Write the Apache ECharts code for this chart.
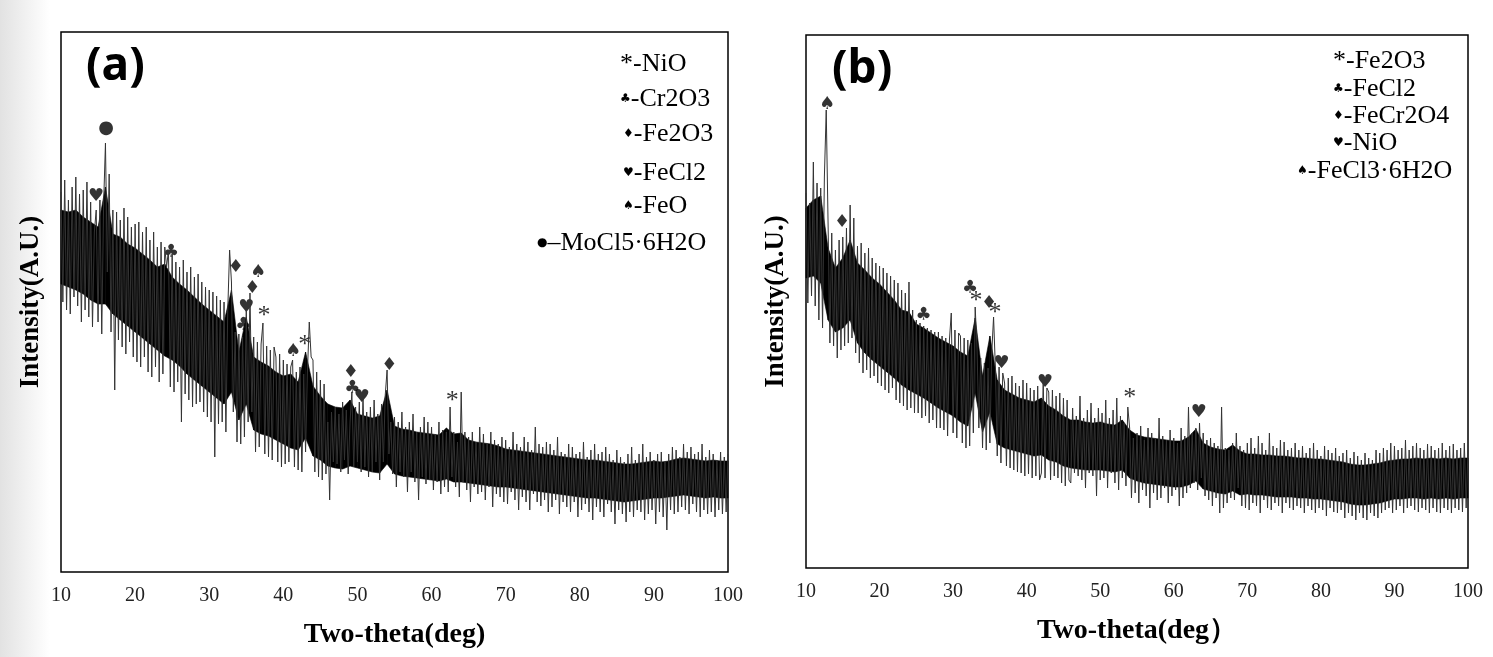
<!DOCTYPE html>
<html>
<head>
<meta charset="utf-8">
<script src="https://cdn.jsdelivr.net/npm/echarts/dist/echarts.min.js"></script>
<style>
  html, body { margin: 0; padding: 0; background: #fff; }
  #chart { width: 1493px; height: 657px; }
</style>
</head>
<body>
<div id="chart"></div>
<script>
// scan grid: 10..100 deg, a reading every 0.25 deg, the dense core every 1 deg
const thetaStart = 10
const thetaStep = 0.25
const coreStep = 1
const thetaTicks = [10, 20, 30, 40, 50, 60, 70, 80, 90, 100]

// (a) intensity (arbitrary units)
const intensityA = [
  380, 270, 392, 262,  372, 258, 385, 275,  395, 266, 378, 250,  382, 262, 390, 255,
  370, 245, 340, 362,  250, 372, 238, 368,  429, 300, 398, 240,  362, 182, 360, 232,
  352, 225, 364, 218,  355, 230, 345, 215,  348, 210, 350, 205,  340, 215, 345, 200,
  332, 195, 340, 205,  325, 190, 330, 198,  325, 305, 322, 185,  318, 180, 310, 190,
  305, 150, 312, 178,  300, 172, 305, 165,  295, 168, 298, 170,  290, 160, 285, 155,
  282, 150, 280, 115,  276, 148, 272, 150,  270, 140, 262, 322,  290, 160, 240, 130,
  238, 128, 235, 135,  262, 150, 279, 160,  235, 120, 230, 125,  228, 249, 118, 226,
  115, 222, 112, 225,  215, 110, 218, 105,  212, 108, 208, 110,  205, 212, 105, 200,
  102, 205, 100, 198,  120, 200, 250, 215,  212, 100, 200, 95,   192, 92, 188, 98,
  150, 72, 160, 110,   165, 108, 158, 100,  170, 112, 162, 98,   150, 180, 105, 165,
  110, 170, 100, 175,  105, 160, 95, 165,   100, 172, 110, 158,  92, 168, 110, 177,
  202, 118, 150, 98,   155, 85, 150, 100,   160, 95, 145, 80,    150, 100, 158, 90,
  140, 72, 145, 95,    155, 88, 150, 92,    145, 82, 138, 90,    150, 78, 142, 85,
  140, 80, 165, 95,    140, 85, 130, 75,    180, 90, 140, 82,    135, 70, 140, 85,
  130, 78, 145, 80,    138, 72, 128, 85,    140, 65, 132, 78,    128, 75, 135, 70,
  132, 68, 125, 80,    140, 72, 128, 62,    125, 75, 135, 70,    130, 62, 122, 78,
  145, 70, 128, 66,    125, 72, 130, 60,    128, 65, 122, 72,    135, 58, 120, 70,
  118, 65, 128, 60,    125, 70, 118, 55,    120, 62, 130, 68,    115, 60, 122, 52,
  128, 65, 118, 60,    120, 55, 125, 68,    118, 60, 112, 48,    122, 62, 115, 58,
  110, 50, 118, 60,    125, 55, 112, 62,    118, 60, 128, 52,    115, 58, 120, 62,
  112, 48, 118, 60,    120, 55, 110, 42,    118, 62, 125, 58,    122, 60, 115, 65,
  128, 62, 120, 58,    125, 68, 118, 60,    120, 55, 128, 62,    115, 58, 122, 60,
  118, 55, 112, 62,    120, 58, 115, 60,
  118
]
// (a) dense black core of the trace, upper and lower edge, one per degree
const coreTopA = [
  362, 360, 362, 355, 350, 345, 385, 338, 335, 328,
  324, 318, 312, 305, 308, 295, 288, 282, 275, 268,
  262, 256, 250, 282, 220, 255, 215, 210, 206, 200,
  196, 198, 190, 220, 186, 176, 168, 165, 164, 172,
  158, 156, 154, 156, 182, 146, 143, 142, 140, 139,
  138, 137, 144, 138, 139, 132, 130, 129, 128, 126,
  123, 122, 121, 120, 119, 118, 117, 116, 115, 114,
  113, 112, 112, 111, 110, 109, 108, 108, 109, 110,
  111, 110, 111, 113, 114, 113, 112, 111, 112, 111,
  111
]
const coreBotA = [
  288, 285, 282, 278, 272, 268, 268, 258, 252, 246,
  240, 234, 228, 222, 216, 212, 206, 198, 192, 186,
  180, 174, 168, 180, 152, 168, 142, 138, 136, 132,
  128, 124, 122, 134, 116, 112, 106, 104, 103, 106,
  104, 102, 100, 99, 108, 98, 96, 95, 94, 93,
  92, 91, 93, 90, 90, 89, 88, 87, 86, 85,
  85, 84, 83, 82, 81, 80, 79, 78, 77, 76,
  75, 74, 74, 73, 72, 71, 70, 71, 72, 73,
  74, 74, 75, 76, 77, 76, 75, 74, 75, 74,
  74
]

// (b) intensity
const intensityB = [
  375, 265, 365, 272,  406, 262, 385, 248,  380, 240, 391, 458,  345, 225, 335, 222,
  318, 210, 328, 218,  331, 222, 340, 225,  363, 230, 350, 215,  322, 205, 325, 195,
  315, 198, 320, 190,  310, 192, 305, 185,  302, 182, 300, 178,  295, 175, 292, 180,
  288, 168, 285, 165,  278, 162, 275, 158,  286, 160, 258, 155,  248, 155, 245, 150,
  242, 152, 240, 145,  238, 148, 236, 140,  236, 140, 232, 138,  230, 132, 228, 255,
  135, 238, 130, 235,  232, 125, 230, 120,  228, 122, 225, 135,  261, 220, 140, 210,
  120, 205, 118, 200,  125, 215, 251, 200,  112, 201, 105, 195,  185, 102, 190, 100,
  192, 98, 185, 96,    182, 95, 188, 92,    185, 94, 180, 90,    178, 92, 182, 88,
  95, 188, 90, 180,    176, 88, 178, 92,    172, 90, 175, 85,    170, 82, 168, 88,
  85, 160, 95, 152,    92, 172, 88, 150,    80, 158, 95, 165,    92, 150, 72, 160,
  88, 155, 90, 168,    80, 150, 95, 158,    85, 170, 78, 152,    90, 145, 82, 161,
  140, 70, 130, 75,    135, 65, 142, 78,    128, 72, 140, 60,    135, 75, 130, 68,
  150, 70, 132, 80,    128, 65, 138, 72,    130, 78, 125, 62,    140, 70, 132, 75,
  161, 80, 135, 85,    140, 78, 145, 90,    135, 72, 128, 68,    130, 62, 125, 70,
  122, 55, 161, 60,    120, 65, 118, 70,    125, 68, 135, 80,    122, 62, 118, 60,
  125, 58, 130, 65,    120, 62, 132, 55,    125, 68, 118, 60,    135, 58, 122, 65,
  120, 62, 128, 55,    126, 65, 118, 60,    120, 58, 125, 62,    118, 60, 122, 55,
  115, 62, 120, 58,    125, 55, 118, 60,    112, 58, 122, 52,    118, 60, 115, 56,
  120, 55, 112, 58,    115, 50, 118, 55,    110, 52, 116, 48,    112, 55, 108, 50,
  115, 48, 110, 55,    108, 52, 118, 50,    115, 55, 120, 58,    118, 60, 125, 55,
  122, 58, 118, 62,    120, 55, 128, 60,    118, 62, 122, 58,    125, 56, 120, 60,
  118, 58, 124, 55,    122, 60, 118, 56,    120, 55, 125, 60,    118, 58, 122, 55,
  124, 60, 118, 58,    120, 56, 125, 60,
  118
]
const coreTopB = [
  360, 368, 372, 320, 300, 310, 328, 305, 298, 290,
  284, 276, 268, 258, 256, 244, 240, 235, 230, 226,
  222, 216, 212, 250, 192, 232, 188, 178, 174, 170,
  168, 166, 170, 162, 158, 152, 148, 148, 146, 145,
  146, 144, 143, 148, 138, 133, 131, 130, 129, 128,
  127, 127, 131, 139, 125, 121, 119, 118, 123, 117,
  114, 114, 113, 113, 112, 112, 111, 110, 110, 109,
  109, 108, 107, 106, 104, 103, 103, 104, 105, 107,
  108, 109, 109, 110, 109, 110, 109, 110, 109, 110,
  110
]
const coreBotB = [
  290, 292, 285, 248, 236, 240, 248, 225, 215, 208,
  202, 196, 190, 183, 178, 174, 170, 165, 160, 156,
  152, 146, 142, 175, 136, 156, 124, 120, 118, 116,
  114, 112, 113, 108, 106, 102, 100, 99, 98, 98,
  98, 97, 96, 98, 90, 87, 85, 84, 83, 82,
  81, 81, 83, 87, 79, 77, 75, 74, 77, 73,
  74, 73, 73, 72, 71, 71, 71, 70, 70, 69,
  69, 68, 67, 66, 64, 63, 63, 64, 65, 67,
  69, 69, 70, 70, 69, 70, 69, 70, 69, 70,
  70
]

// phase marks above the peaks: [two-theta, intensity, mark]
const peaksA = [
  [16.07, 444, '●'], [14.72, 376, '♥'], [24.85, 320, '♣'], [33.6, 305, '♦'],
  [36.6, 300, '♠'], [35.8, 284, '♦'], [35.0, 265, '♥'], [34.6, 247, '♣'],
  [37.4, 256, '*'], [41.3, 221, '♠'], [42.9, 227, '*'], [49.1, 200, '♦'],
  [49.3, 184, '♣'], [50.6, 175, '♥'], [54.3, 207, '♦'], [62.8, 171, '*']
]
const peaksB = [
  [12.85, 464, '♠'], [14.9, 346, '♦'], [26.0, 253, '♣'], [32.3, 280, '♣'],
  [33.1, 267, '*'], [34.9, 265, '♦'], [35.7, 255, '*'], [36.6, 205, '♥'],
  [42.5, 186, '♥'], [54.0, 170, '*'], [63.4, 156, '♥']
]

const phasesA = [['*', '-NiO'], ['♣', '-Cr2O3'], ['♦', '-Fe2O3'], ['♥', '-FeCl2'], ['♠', '-FeO'], ['●', '–MoCl5·6H2O']]
const phasesB = [['*', '-Fe2O3'], ['♣', '-FeCl2'], ['♦', '-FeCr2O4'], ['♥', '-NiO'], ['♠', '-FeCl3·6H2O']]

const chart = echarts.init(document.getElementById('chart'))

function toPairs(vals, step) {
  return vals.map((v, i) => [thetaStart + i * step, v])
}
// one quad per degree: [x0, top0, bot0, x1, top1, bot1]
function bandSegments(top, bot) {
  let segs = []
  for (let i = 0; i < top.length - 1; i++) {
    segs.push([
      thetaStart + i * coreStep, top[i], bot[i],
      thetaStart + (i + 1) * coreStep, top[i + 1], bot[i + 1]
    ])
  }
  return segs
}

function markData(list) {
  return list.map(p => ({
    value: [p[0], p[1]],
    label: p[2] === '*'
      ? { formatter: '*', fontFamily: 'Liberation Serif', fontSize: 26, lineHeight: 26, padding: [10, 0, 0, 0] }
      : { formatter: p[2] }
  }))
}

const serif = 'Liberation Serif'

function xAx(idx, name) {
  return {
    gridIndex: idx, type: 'value', min: 10, max: 100, interval: 10,
    name: name, nameLocation: 'middle', nameGap: 49,
    nameTextStyle: { fontFamily: serif, fontWeight: 'bold', fontSize: 28, color: '#000' },
    axisLine: { show: false }, axisTick: { show: false }, splitLine: { show: false },
    axisLabel: {
      margin: 14, fontFamily: serif, fontSize: 20, color: '#222',
      formatter: v => thetaTicks.indexOf(v) >= 0 ? String(v) : ''
    }
  }
}
function yAx(idx, max) {
  return {
    gridIndex: idx, type: 'value', min: 0, max: max,
    name: 'Intensity(A.U.)', nameLocation: 'middle', nameGap: 16,
    nameTextStyle: { fontFamily: serif, fontWeight: 'bold', fontSize: 27, color: '#000' },
    axisLine: { show: false }, axisTick: { show: false },
    axisLabel: { show: false }, splitLine: { show: false }
  }
}

function legendRows(list, xs, ys) {
  return list.map((row, i) => ({
    type: 'text', left: xs[i], top: ys[i] - 12,
    style: {
      text: '{s|' + row[0] + '}{t|' + row[1] + '}',
      rich: {
        s: row[0] === '*'
          ? { fontFamily: serif, fontSize: 26, fill: '#000' }
          : { fontFamily: 'DejaVu Sans', fontSize: 12, fill: '#000' },
        t: { fontFamily: serif, fontSize: 26, fill: '#000' }
      }
    }
  }))
}

// the dense core of the trace, drawn as a filled band through the axes
function coreSeries(idx, top, bot) {
  return {
    type: 'custom', xAxisIndex: idx, yAxisIndex: idx, silent: true,
    data: bandSegments(top, bot),
    encode: { x: [0, 3], y: [1, 2, 4, 5] },
    renderItem: function (params, api) {
      const a = api.coord([api.value(0), api.value(1)])
      const b = api.coord([api.value(3), api.value(4)])
      const c = api.coord([api.value(3), api.value(5)])
      const d = api.coord([api.value(0), api.value(2)])
      return {
        type: 'polygon',
        shape: { points: [a, b, c, d] },
        style: { fill: '#000', stroke: '#000', lineWidth: 0.6 }
      }
    }
  }
}

const markLabel = {
  show: true, position: 'inside', color: '#000',
  fontFamily: 'DejaVu Sans', fontSize: 18
}

let option = {
  animation: false,
  backgroundColor: '#fff',
  grid: [
    { left: 61, top: 32, width: 667, height: 540, show: true, borderColor: '#000', borderWidth: 1.5 },
    { left: 806, top: 35, width: 662, height: 533, show: true, borderColor: '#000', borderWidth: 1.5 }
  ],
  xAxis: [xAx(0, 'Two-theta(deg)'), xAx(1, 'Two-theta(deg）')],
  yAxis: [yAx(0, 540), yAx(1, 533)],
  series: [
    coreSeries(0, coreTopA, coreBotA),
    coreSeries(1, coreTopB, coreBotB),
    {
      name: 'a', type: 'line', xAxisIndex: 0, yAxisIndex: 0, data: toPairs(intensityA, thetaStep),
      symbol: 'none', lineStyle: { color: '#333', width: 1 }
    },
    {
      name: 'b', type: 'line', xAxisIndex: 1, yAxisIndex: 1, data: toPairs(intensityB, thetaStep),
      symbol: 'none', lineStyle: { color: '#333', width: 1 }
    },
    {
      name: 'marks a', type: 'scatter', xAxisIndex: 0, yAxisIndex: 0, data: markData(peaksA),
      symbolSize: 1, itemStyle: { color: 'rgba(0,0,0,0)' }, label: markLabel
    },
    {
      name: 'marks b', type: 'scatter', xAxisIndex: 1, yAxisIndex: 1, data: markData(peaksB),
      symbolSize: 1, itemStyle: { color: 'rgba(0,0,0,0)' }, label: markLabel
    }
  ],
  graphic: [
    // grey page shadow on the left edge
    {
      type: 'rect', left: 0, top: 0, z: -10,
      shape: { width: 50, height: 657 },
      style: {
        fill: new echarts.graphic.LinearGradient(0, 0, 1, 0, [
          { offset: 0, color: '#e2e2e2' }, { offset: 1, color: '#ffffff' }
        ])
      }
    },
    {
      type: 'text', left: 86, top: 44,
      style: { text: '(a)', fontFamily: 'Noto Sans', fontWeight: 'bold', fontSize: 46, fill: '#000' }
    },
    {
      type: 'text', left: 832, top: 47,
      style: { text: '(b)', fontFamily: 'Noto Sans', fontWeight: 'bold', fontSize: 46, fill: '#000' }
    }
  ]
    .concat(legendRows(phasesA, [620, 620, 623, 623, 623, 537], [63, 98, 133, 172, 205, 242]))
    .concat(legendRows(phasesB, [1333, 1333, 1333, 1333, 1297], [60, 88, 115, 142, 170]))
}

chart.setOption(option)
window.addEventListener('resize', function () {
  chart.resize()
})
</script>
</body>
</html>
